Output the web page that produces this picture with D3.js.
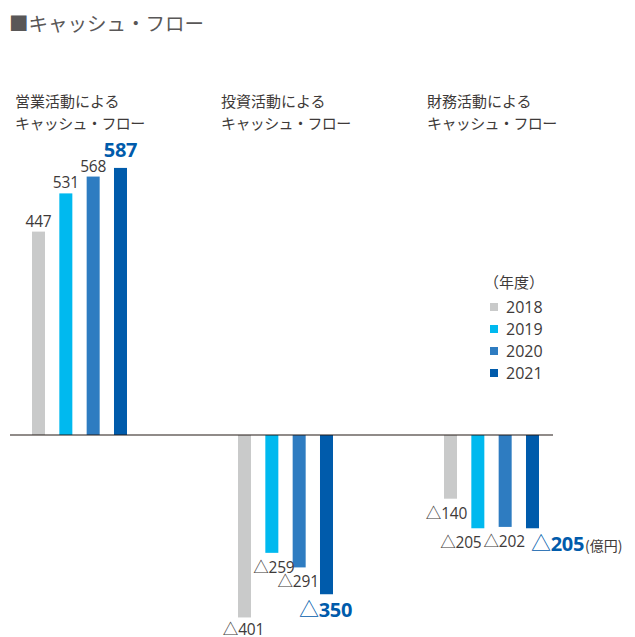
<!DOCTYPE html>
<html><head><meta charset="utf-8">
<script src="https://cdn.jsdelivr.net/npm/d3@7"></script>
<style>
html,body{margin:0;padding:0;background:#fff;}
svg{display:block;font-family:"Open Sans","Noto Sans CJK JP",sans-serif;}
.jp{font-family:"Noto Sans CJK JP","Noto Sans",sans-serif;}
</style></head>
<body>
<svg id="chart" width="635" height="637"></svg>
<script>
const title = "■キャッシュ・フロー";
const categories = ["営業活動による|キャッシュ・フロー", "投資活動による|キャッシュ・フロー", "財務活動による|キャッシュ・フロー"];
const years = ["2018", "2019", "2020", "2021"];
const operating = [447, 531, 568, 587];
const investing = [-401, -259, -291, -350];
const financing = [-140, -205, -202, -205];
const legendTitle = "（年度）";
const unitLabel = "(億円)";
const colors = ["#c9caca", "#00b9ef", "#2e7cc1", "#005bab"];

const seriesByCat = [operating, investing, financing];
const svg = d3.select("#chart");
const textColor = "#3e3a39";

const x0 = d3.scaleBand().domain(categories).range([32, 539]).paddingInner(111/206).paddingOuter(0);
const x1 = d3.scaleBand().domain(years).range([0, x0.bandwidth()]).paddingInner(0.524).paddingOuter(0);
const y = d3.scaleLinear().domain([-401, 587]).range([435 + 401*0.455, 435 - 587*0.455]);
const color = d3.scaleOrdinal().domain(years).range(colors);

// title
svg.append("text").attr("class","jp").attr("x", 9).attr("y", 31)
  .attr("font-size", 19.5).attr("fill", "#595757").text(title);

// category labels
categories.forEach((c, i) => {
  const lines = c.split("|");
  const t = svg.append("text").attr("class","jp").attr("font-size", 15).attr("fill", textColor);
  lines.forEach((l, j) => {
    t.append("tspan").attr("x", x0(c) - 17).attr("y", 107 + j*22)
      .attr("letter-spacing", j === 1 ? -0.6 : 0).text(l);
  });
});

// bars
const data = [];
categories.forEach((c, i) => {
  seriesByCat[i].forEach((v, j) => data.push({cat: c, ci: i, year: years[j], yi: j, v}));
});

svg.append("g").selectAll("rect").data(data).join("rect")
  .attr("x", d => x0(d.cat) + x1(d.year))
  .attr("width", x1.bandwidth())
  .attr("y", d => Math.min(y(d.v), y(0)))
  .attr("height", d => Math.abs(y(d.v) - y(0)))
  .attr("fill", d => color(d.year));

// zero axis line
svg.append("line").attr("x1", 10).attr("x2", 553).attr("y1", y(0)).attr("y2", y(0))
  .attr("stroke", "#231815").attr("stroke-width", 1.2);

// value labels
const nudge = (d) => {
  if (d.ci === 2 && d.yi === 1) return -17;
  if (d.ci === 2 && d.yi === 0) return -4;
  if (d.ci === 2 && d.yi === 3) return 25;
  if (d.ci === 1 && d.yi === 1) return 2;
  if (d.v < 0) return -1;
  return 0;
};
data.forEach(d => {
  const last = d.yi === years.length - 1;
  const cx = x0(d.cat) + x1(d.year) + x1.bandwidth()/2 + nudge(d);
  let yy;
  if (d.v >= 0) yy = y(d.v) - (last ? 11 : 5);
  else yy = Math.min(635, y(d.v) + (last ? 23 : 20));
  const t = svg.append("text").attr("x", cx).attr("y", yy).attr("text-anchor", "middle")
    .attr("font-size", last ? 20 : 15.5)
    .attr("font-weight", last ? 700 : 400)
    .attr("fill", last ? "#005bab" : textColor)
    .attr("letter-spacing", last ? -0.3 : -0.2);
  if (d.v < 0) {
    t.append("tspan").attr("class","jp").attr("font-weight", 400).text("△");
    t.append("tspan").text(Math.abs(d.v));
  } else {
    t.text(d.v);
  }
  if (d.ci === 2 && last) {
    const bb = t.node().getBBox();
    svg.append("text").attr("class","jp").attr("x", bb.x + bb.width + 1).attr("y", yy)
      .attr("font-size", 14).attr("fill", textColor).text(unitLabel);
  }
});

// legend
const lg = svg.append("g");
lg.append("text").attr("class","jp").attr("x", 484).attr("y", 288).attr("font-size", 15)
  .attr("fill", textColor).text(legendTitle);
years.forEach((yr, i) => {
  const cy = 307 + i*22;
  lg.append("rect").attr("x", 490).attr("y", cy - 4).attr("width", 8).attr("height", 8).attr("fill", color(yr));
  lg.append("text").attr("x", 506).attr("y", cy + 6).attr("font-size", 16).attr("fill", textColor).text(yr);
});
</script>
</body></html>
